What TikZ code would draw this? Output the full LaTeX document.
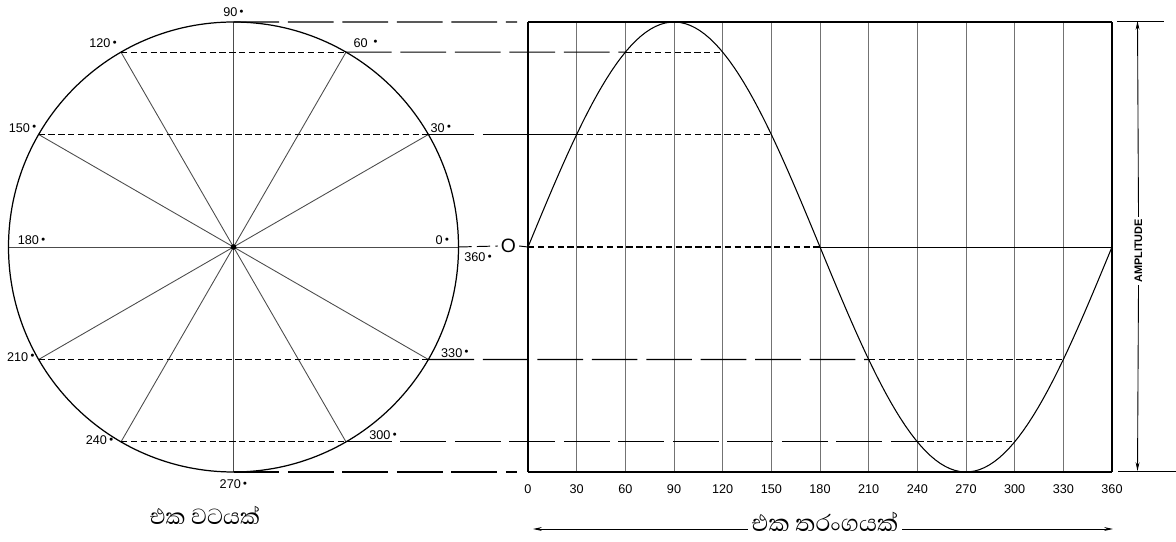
\documentclass[tikz,border=0pt]{standalone}
\usepackage{fontspec}
\setsansfont{Liberation Sans}
\newfontfamily\sinhala[Script=Sinhala]{Abhaya Libre}
\usetikzlibrary{arrows.meta}

\newcommand{\degdot}{\,\raisebox{.5ex}{\scalebox{.6}{$\bullet$}}}

\begin{document}
\begin{tikzpicture}[
  >={Stealth[length=5pt,width=2.2pt]},
  line width=.6pt,
  font=\sffamily\fontsize{7.2}{8}\selectfont,
  spoke/.style={black!70,line width=.5pt},
  gridline/.style={black!55,line width=.5pt},
  near/.style={dash pattern=on 3.6pt off 2pt,line width=.65pt},
  far/.style={dash pattern=on 26pt off 5pt,line width=.65pt},
  deg/.style={inner sep=1pt},
  sinh/.style={font=\sinhala\fontsize{16}{18}\selectfont}
]
  \useasboundingbox (0,0) rectangle (23.52,10.82);
  \def\R{4.5}

  % the circle, a point every 30 degrees
  \begin{scope}[shift={(4.67,5.88)}]
    \coordinate (ctr) at (0,0);
    \foreach \a in {0,30,...,330}
      \coordinate (c\a) at (\a:\R);
  \end{scope}
  \foreach \a in {0,30,...,150}
    \draw[spoke] (ctr) -- (c\a);
  \foreach \a in {180,210,...,330}
    \draw[spoke] (ctr) -- (c\a);
  \draw[line width=.7pt] (ctr) circle (\R);
  \fill (ctr) circle (1.6pt);

  % one wave: columns every 30 degrees, 11.68cm for 360
  \foreach \a in {0,30,...,360} {
    \coordinate (b\a) at ({10.56+\a*11.68/360},1.38);
    \coordinate (t\a) at ({10.56+\a*11.68/360},10.38);
    \coordinate (w\a) at ({10.56+\a*11.68/360},{5.88+\R*sin(\a)});
    \node[below=3.5pt] (n\a) at (b\a) {\a};
  }
  \foreach \a in {30,60,...,330}
    \draw[gridline] (b\a) -- (t\a);
  \draw[line width=.7pt] (b0) -- (b360) (t0) -- (t360);
  \draw[line width=1.1pt] (b0) -- (t0) (b360) -- (t360);
  \draw[line width=.6pt,domain=0:360,samples=120]
    plot ({10.56+\x*11.68/360},{5.88+\R*sin(\x)});

  % projections from circle to wave
  \coordinate (g90) at (10.34,10.38);
  \coordinate (g270) at (10.34,1.38);
  \draw[far] (c90) -- (g90);
  \draw[far] (c270) -- (g270);
  \draw[near] (c120) -- (c60);
  \draw[far] (c60) -- (w60);
  \draw[near] (w60) -- (w120);
  \draw[near] (c150) -- (c30);
  \draw[far] (c30) -- (c30 -| b0);
  \draw[line width=.5pt] (c30 -| b0) -- (w30);
  \draw[near] (w30) -- (w150);
  \node[font=\sffamily\fontsize{11}{12}\selectfont,inner sep=1.5pt] (orig) at (10.17,5.9) {O};
  \draw[dash pattern=on 7.5pt off 3pt,line width=.55pt] (c0) -- (orig.west);
  \draw[line width=.55pt] (orig.east) -- (w0);
  \draw[near] (w0) -- (w180);
  \draw[line width=.5pt] (w180) -- (w360);
  \draw[near] (c210) -- (c330);
  \draw[far] (c330) -- (w210);
  \draw[near] (w210) -- (w330);
  \draw[near] (c240) -- (c300);
  \draw[far] (c300) -- (w240);
  \draw[near] (w240) -- (w300);

  % angle labels
  \node[deg,above=1.5pt] (l90) at (c90) {90\degdot};
  \node[deg,anchor=south west,xshift=3pt,yshift=1.5pt] (l60) at (c60) {60 \degdot};
  \node[deg,anchor=south east,xshift=-1pt,yshift=1pt] (l120) at (c120) {120\degdot};
  \node[deg,anchor=south east] (l150) at (c150) {150\degdot};
  \node[deg,anchor=south west] (l30) at (c30) {30\degdot};
  \node[deg,anchor=south west,xshift=4pt] (l180) at (c180) {180\degdot};
  \node[deg,anchor=south east,xshift=-4pt] (l0) at (c0) {0\degdot};
  \node[deg,anchor=north west,xshift=2pt,yshift=-2pt] (l360) at (c0) {360\degdot};
  \node[deg,anchor=east,xshift=-1pt,yshift=1.5pt] (l210) at (c210) {210\degdot};
  \node[deg,anchor=south west,xshift=6pt] (l330) at (c330) {330\degdot};
  \node[deg,anchor=east,xshift=-3pt,yshift=1pt] (l240) at (c240) {240\degdot};
  \node[deg,anchor=south west,xshift=12pt] (l300) at (c300) {300\degdot};
  \node[deg,below=3pt] (l270) at (c270) {270\degdot};

  % amplitude
  \draw[line width=.5pt] (22.34,10.4) -- (23.28,10.4);
  \draw[line width=.5pt] (22.36,1.4) -- (23.52,1.4);
  \coordinate (atop) at (22.75,10.4);
  \coordinate (abot) at (22.75,1.4);
  \node[rotate=90,fill=white,inner sep=1pt,
    font=\sffamily\bfseries\fontsize{6.2}{7}\selectfont] (amp) at (22.77,5.8) {AMPLITUDE};
  \draw[->,line width=.5pt] (amp.east) -- (atop);
  \draw[->,line width=.5pt] (amp.west) -- (abot);

  % titles
  \node[sinh] (cycle) at (4.1,0.52) {එක වටයක්};
  \node[sinh,inner sep=2pt,font=\sinhala\fontsize{17}{19}\selectfont] (wave) at (16.5,0.38) {එක තරංගයක්};
  \coordinate (wl) at (10.66,0.24);
  \coordinate (wr) at (22.26,0.24);
  \draw[->,line width=.5pt] (wave.west |- wl) -- (wl);
  \draw[->,line width=.5pt] (wave.east |- wr) -- (wr);
\end{tikzpicture}
\end{document}
